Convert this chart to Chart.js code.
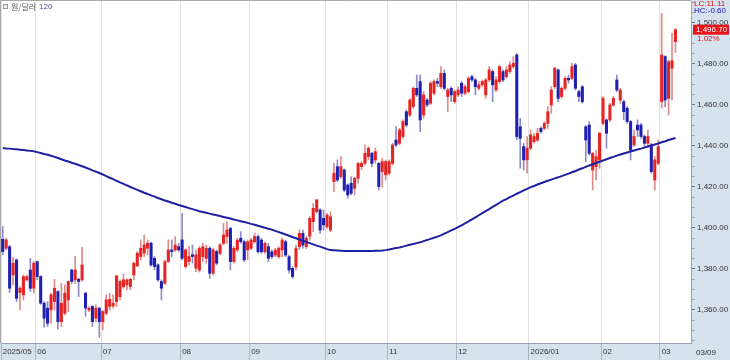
<!DOCTYPE html>
<html><head><meta charset="utf-8">
<script src="https://cdn.jsdelivr.net/npm/chart.js@4.4.1/dist/chart.umd.min.js"></script>
<style>html,body{margin:0;padding:0;background:#fff;}canvas{display:block;}</style>
</head><body>
<canvas id="c" width="730" height="360"></canvas>
<script>
// ---- data (KRW per USD, daily candles, 2025/05 - 2026/03/09) ----
const open = [
1394.5,1390.1,1390.9,1377.1,1384.4,1368.5,1367.4,1374.7,1379.5,1370.6,
1383.6,1376.3,1363.3,1360.9,1360.0,1364.1,1369.0,1354.3,1358.4,1364.9,
1379.5,1374.7,1375.0,1374.7,1368.2,1360.0,1361.7,1356.0,1360.9,1354.3,
1358.4,1361.7,1362.0,1364.1,1366.5,1371.4,1372.2,1371.4,1377.1,1381.5,
1386.1,1387.7,1390.1,1392.6,1385.2,1382.0,1373.9,1373.0,1383.6,1389.3,
1389.3,1390.9,1394.2,1381.2,1383.6,1386.9,1380.4,1379.5,1386.0,1385.2,
1390.1,1377.9,1388.5,1387.6,1392.5,1395.8,1399.8,1383.6,1389.3,1395.0,
1393.3,1389.3,1390.1,1393.3,1395.8,1394.1,1388.4,1390.9,1388.4,1386.8,
1386.0,1389.3,1393.3,1386.0,1380.3,1381.0,1390.9,1397.4,1390.9,1396.0,
1403.1,1408.0,1408.8,1404.7,1400.6,1399.0,1422.6,1429.9,1425.0,1428.3,
1421.0,1421.8,1419.3,1424.2,1429.9,1431.5,1434.8,1436.4,1433.2,1431.5,
1427.5,1425.9,1426.7,1431.5,1442.9,1441.3,1444.6,1456.7,1455.1,1459.2,
1468.1,1471.4,1455.1,1462.4,1460.8,1465.7,1471.4,1468.9,1475.4,1464.1,
1468.1,1461.6,1464.9,1470.6,1465.7,1466.5,1473.8,1472.2,1468.1,1469.8,
1464.9,1472.2,1476.3,1467.3,1471.4,1476.3,1473.8,1476.3,1478.7,1484.4,
1449.4,1439.7,1433.2,1438.9,1442.1,1442.9,1448.6,1448.6,1451.0,1460.0,
1468.9,1477.1,1464.1,1468.1,1473.0,1473.0,1479.5,1466.5,1468.9,1449.4,
1450.2,1428.3,1429.9,1433.2,1451.0,1452.7,1452.7,1460.0,1472.2,1462.4,
1461.6,1458.4,1451.9,1440.5,1450.2,1450.2,1444.6,1441.3,1440.5,1423.4,
1431.5,1461.6,1483.6,1463.2,1477.9,1490.9];
const high = [
1400.7,1395.0,1391.5,1385.7,1384.9,1371.4,1377.1,1377.0,1385.2,1383.6,
1384.0,1376.8,1364.1,1364.1,1368.2,1375.0,1369.5,1373.0,1372.2,1374.2,
1380.0,1386.1,1375.5,1390.6,1368.7,1361.7,1362.2,1362.5,1361.4,1359.7,
1367.4,1368.2,1367.4,1377.0,1374.7,1377.6,1375.2,1375.5,1383.3,1388.5,
1394.2,1396.6,1394.2,1393.0,1386.1,1382.5,1374.7,1384.4,1394.2,1394.2,
1395.8,1392.6,1407.2,1389.8,1390.9,1391.7,1389.3,1391.0,1392.5,1391.7,
1390.9,1390.1,1389.3,1392.5,1402.3,1403.1,1400.3,1390.9,1395.0,1398.2,
1394.1,1394.1,1395.0,1397.4,1396.6,1395.0,1393.3,1392.5,1389.3,1390.1,
1390.9,1395.0,1394.1,1386.8,1381.1,1391.7,1399.0,1399.0,1396.0,1405.5,
1412.0,1414.0,1409.5,1408.8,1407.2,1408.0,1431.5,1433.2,1434.8,1428.8,
1421.5,1425.0,1424.7,1432.0,1432.4,1440.5,1439.7,1436.9,1438.9,1432.0,
1434.0,1433.2,1433.2,1441.3,1449.4,1448.6,1452.7,1457.6,1463.2,1468.9,
1474.6,1474.6,1466.5,1463.2,1471.4,1472.2,1473.0,1478.7,1477.1,1468.1,
1468.9,1467.3,1468.9,1471.4,1469.8,1473.8,1474.6,1473.0,1471.4,1472.2,
1473.0,1478.7,1477.1,1473.8,1479.5,1477.1,1478.7,1481.1,1483.6,1485.0,
1453.5,1441.3,1444.6,1447.8,1446.2,1448.6,1449.4,1451.9,1459.2,1468.9,
1478.5,1477.6,1468.9,1473.8,1474.6,1480.3,1480.3,1467.3,1469.4,1449.9,
1451.9,1436.9,1438.0,1446.7,1464.1,1453.2,1460.8,1464.1,1474.6,1468.1,
1462.4,1459.2,1452.4,1447.8,1452.7,1451.0,1445.4,1447.8,1441.3,1434.8,
1442.9,1504.7,1484.1,1481.9,1495.0,1497.3];
const low = [
1386.9,1389.3,1368.5,1372.2,1364.1,1360.0,1364.9,1374.0,1369.0,1368.2,
1374.7,1362.8,1351.6,1351.9,1353.5,1360.0,1350.6,1351.9,1357.6,1359.2,
1373.0,1373.0,1366.5,1373.9,1356.8,1359.2,1351.9,1354.3,1346.7,1350.3,
1357.6,1360.0,1360.9,1361.7,1364.9,1370.6,1369.8,1369.8,1374.7,1381.2,
1384.4,1386.1,1386.9,1381.2,1379.6,1373.9,1364.9,1372.5,1383.1,1386.1,
1388.5,1388.5,1384.4,1380.4,1382.0,1382.8,1378.7,1378.5,1383.6,1382.8,
1375.4,1377.1,1382.0,1386.8,1391.7,1392.5,1379.5,1382.8,1388.4,1392.5,
1383.6,1384.4,1389.3,1392.5,1387.6,1387.6,1387.6,1383.6,1385.2,1386.0,
1385.2,1386.0,1386.0,1377.9,1375.4,1379.5,1389.5,1390.1,1390.0,1394.0,
1398.2,1407.2,1397.4,1399.0,1399.8,1398.2,1417.7,1422.6,1424.2,1417.7,
1414.5,1416.1,1416.1,1421.8,1428.3,1430.7,1433.2,1429.9,1431.5,1418.5,
1420.0,1423.4,1425.9,1430.7,1439.7,1440.5,1443.7,1449.4,1454.3,1458.4,
1464.1,1447.0,1453.5,1459.2,1460.0,1464.9,1468.9,1468.1,1467.3,1456.7,
1461.6,1460.8,1464.1,1464.1,1464.9,1465.7,1471.4,1464.9,1467.3,1468.9,
1463.2,1471.4,1461.6,1466.5,1470.6,1471.4,1473.0,1475.4,1477.9,1443.0,
1429.1,1428.3,1426.7,1438.0,1441.3,1442.1,1446.2,1447.8,1448.6,1455.9,
1468.1,1461.6,1463.2,1467.3,1470.6,1472.2,1467.3,1461.6,1460.8,1432.4,
1435.6,1418.5,1423.4,1429.1,1450.2,1438.9,1451.9,1459.2,1466.5,1460.8,
1452.7,1451.0,1433.2,1439.7,1444.6,1443.7,1439.7,1439.7,1426.7,1418.5,
1430.7,1458.4,1459.2,1455.1,1462.4,1485.6];
const close = [
1388.5,1394.2,1370.6,1382.8,1365.7,1370.6,1376.3,1376.3,1370.6,1382.8,
1376.3,1363.3,1356.0,1353.5,1367.4,1370.6,1354.3,1363.3,1368.2,1373.9,
1373.9,1379.5,1373.9,1382.0,1360.9,1360.9,1354.3,1360.9,1354.3,1359.2,
1364.9,1365.2,1363.3,1376.6,1373.9,1374.7,1374.7,1375.0,1382.8,1387.7,
1390.1,1391.7,1392.6,1382.0,1381.2,1374.7,1370.6,1383.6,1389.3,1388.5,
1391.7,1389.3,1385.2,1389.3,1386.1,1386.1,1386.9,1390.1,1390.9,1390.1,
1377.9,1389.3,1382.8,1391.7,1396.6,1399.0,1383.6,1390.1,1394.1,1393.3,
1384.4,1393.3,1394.1,1395.8,1388.4,1388.4,1392.5,1385.2,1386.0,1389.3,
1390.1,1394.1,1386.8,1379.5,1376.3,1390.0,1397.4,1391.7,1395.0,1404.7,
1409.6,1413.7,1399.0,1401.5,1406.3,1405.5,1426.7,1423.4,1429.9,1418.5,
1416.1,1416.9,1424.2,1431.5,1431.5,1436.4,1438.9,1431.5,1437.2,1420.2,
1432.4,1432.4,1432.4,1440.5,1440.5,1447.8,1451.9,1450.2,1462.4,1468.1,
1464.9,1452.7,1464.9,1460.0,1470.6,1471.4,1470.6,1475.4,1468.1,1467.3,
1464.9,1466.5,1467.3,1465.7,1468.9,1473.0,1472.2,1468.9,1469.8,1471.4,
1472.2,1477.1,1469.8,1472.2,1478.7,1472.2,1477.1,1479.5,1480.3,1444.6,
1443.7,1433.2,1438.9,1445.4,1444.6,1446.2,1447.0,1451.0,1456.7,1467.3,
1477.9,1463.2,1468.1,1473.0,1472.2,1478.7,1468.1,1464.1,1461.6,1442.9,
1436.4,1436.4,1434.8,1446.2,1463.2,1446.2,1460.0,1463.2,1467.3,1467.3,
1456.7,1451.9,1438.0,1444.6,1447.8,1444.6,1441.3,1444.6,1427.5,1433.2,
1439.7,1484.4,1462.4,1481.1,1481.6,1496.7];
// 120-day moving average as drawn on the reference
const ma120 = [
1439.0,1438.8,1438.7,1438.5,1438.4,1438.2,1438.0,1437.8,1437.6,1437.4,
1437.0,1436.6,1436.1,1435.7,1435.2,1434.7,1434.1,1433.5,1432.9,1432.4,
1431.8,1431.3,1430.7,1430.1,1429.5,1428.8,1428.1,1427.5,1426.8,1426.1,
1425.3,1424.5,1423.8,1423.0,1422.2,1421.5,1420.8,1420.0,1419.3,1418.6,
1417.9,1417.2,1416.6,1415.9,1415.3,1414.6,1414.0,1413.4,1412.9,1412.3,
1411.8,1411.2,1410.7,1410.2,1409.7,1409.2,1408.7,1408.2,1407.8,1407.4,
1407.0,1406.6,1406.2,1405.8,1405.4,1405.0,1404.6,1404.1,1403.7,1403.3,
1402.9,1402.5,1402.0,1401.6,1401.1,1400.6,1400.1,1399.6,1399.2,1398.6,
1398.0,1397.4,1396.8,1396.2,1395.6,1395.0,1394.4,1393.8,1393.2,1392.6,
1392.0,1391.4,1390.9,1390.3,1389.7,1389.2,1389.1,1389.0,1388.9,1388.8,
1388.8,1388.8,1388.8,1388.8,1388.8,1388.8,1388.8,1388.8,1388.9,1388.9,
1389.0,1389.2,1389.5,1389.9,1390.2,1390.5,1390.9,1391.4,1391.8,1392.2,
1392.6,1393.0,1393.6,1394.1,1394.7,1395.2,1395.8,1396.4,1397.2,1398.0,
1398.8,1399.6,1400.4,1401.3,1402.2,1403.2,1404.2,1405.2,1406.2,1407.2,
1408.2,1409.2,1410.3,1411.3,1412.3,1413.3,1414.1,1415.0,1415.8,1416.7,
1417.5,1418.3,1419.1,1419.9,1420.5,1421.2,1421.8,1422.4,1423.0,1423.6,
1424.2,1424.7,1425.3,1425.9,1426.5,1427.2,1427.8,1428.5,1429.1,1429.8,
1430.5,1431.1,1431.7,1432.3,1432.9,1433.5,1434.1,1434.7,1435.3,1435.8,
1436.3,1436.8,1437.3,1437.8,1438.3,1438.7,1439.2,1439.7,1440.2,1440.7,
1441.2,1441.8,1442.3,1442.9,1443.4,1443.9];
// x-axis: index of the first trading day of each month, and its label
const monthStart = [0,10,29,52,72,94,112,132,153,174,191];
const monthText  = ['2025/05','06','07','08','09','10','11','12','2026/01','02','03'];
const blankSlots = 4;               // empty days to the right of the last candle
const yMin = 1343.9, yMax = 1510.7; // visible price range
const seriesName = '원/달러', maName = '120';
const lcText = 'LC:11.11', hcText = 'HC:-0.60';
const lastPriceText = '1,496.70', changeText = '1.02%', lastDateText = '03/09';

// ---- styling ----
const FONT = '"Liberation Sans",Arial,sans-serif';
const BAND = '#d7e2ef';
const UP = '#e52424', DOWN = '#2020b0', UPW = '#e08a8a', DOWNW = '#8c8cc6';
const slots = close.length + blankSlots;
const cats = Array.from({length: slots}, (_, i) => i);
const monthSet = new Set(monthStart);
const isUp = close.map((c, i) => c >= open[i]);

const bandsPlugin = {
  id: 'bands',
  beforeDraw(chart) {
    const {ctx, chartArea: a, width, height} = chart;
    ctx.save();
    ctx.fillStyle = '#fff'; ctx.fillRect(0, 0, width, height);
    ctx.fillStyle = BAND;
    ctx.fillRect(a.right, 0, width - a.right, height);
    ctx.fillRect(0, a.bottom, width, height - a.bottom);
    ctx.restore();
  },
  afterDraw(chart) {
    const {ctx, chartArea: a, width, height, scales: {y}} = chart;
    ctx.save();
    ctx.strokeStyle = '#a9a9a9'; ctx.lineWidth = 1;
    ctx.beginPath();
    ctx.moveTo(0.5, 0); ctx.lineTo(0.5, a.bottom);
    ctx.moveTo(0, 0.5); ctx.lineTo(a.right, 0.5);
    ctx.stroke();
    // header
    ctx.fillStyle = '#f2f2f2'; ctx.fillRect(3, 4, 5, 5);
    ctx.strokeStyle = '#9a9a9a'; ctx.strokeRect(3.5, 4.5, 4, 4);
    ctx.textBaseline = 'middle'; ctx.textAlign = 'left';
    ctx.fillStyle = '#555'; ctx.font = '8px "Noto Sans CJK KR",sans-serif';
    ctx.fillText(seriesName, 11, 7);
    ctx.fillStyle = '#4b4ba6'; ctx.font = '8px ' + FONT;
    ctx.fillText(maName, 39, 7);
    // right side info
    ctx.font = '8px ' + FONT;
    ctx.fillStyle = '#e01010'; ctx.fillText(lcText, a.right + 3, 4);
    ctx.fillStyle = '#1515c0'; ctx.fillText(hcText, a.right + 3, 11);
    const py = y.getPixelForValue(close[close.length - 1]);
    ctx.fillStyle = '#e8141c'; ctx.fillRect(a.right + 2, py - 5, 36, 10);
    ctx.fillStyle = '#fff'; ctx.fillText(lastPriceText, a.right + 5, py + 0.5);
    ctx.fillStyle = '#e01010'; ctx.fillText(changeText, a.right + 6, py + 9.5);
    ctx.fillStyle = '#333'; ctx.fillText(lastDateText, a.right + 5, (a.bottom + height) / 2 + 1);
    ctx.restore();
  }
};

new Chart(document.getElementById('c'), {
  data: {
    labels: cats,
    datasets: [
      { type: 'line', data: ma120, borderColor: '#1f1fa2', borderWidth: 2,
        pointRadius: 0, fill: false, order: 0 },
      { type: 'bar', data: open.map((o, i) => [o, close[i]]), grouped: false,
        barThickness: 2.4, minBarLength: 1, borderWidth: 0,
        backgroundColor: isUp.map(u => u ? UP : DOWN), order: 1 },
      { type: 'bar', data: low.map((l, i) => [l, high[i]]), grouped: false,
        barThickness: 1, borderWidth: 0,
        backgroundColor: isUp.map(u => u ? UPW : DOWNW), order: 2 }
    ]
  },
  options: {
    responsive: false, animation: false, devicePixelRatio: 1,
    layout: { padding: { left: 1, top: 1, right: 0, bottom: 0 } },
    plugins: { legend: { display: false }, tooltip: { enabled: false } },
    scales: {
      x: {
        type: 'category', offset: true,
        grid: { offset: true, drawOnChartArea: true, drawTicks: true, tickLength: 17,
          color: c => monthSet.has(c.index) ? '#e3e3e3' : 'rgba(0,0,0,0)',
          tickColor: c => monthSet.has(c.index) ? '#aab4c2' : 'rgba(0,0,0,0)' },
        border: { display: true, color: '#98a2b0' },
        ticks: { autoSkip: false, maxRotation: 0, minRotation: 0, align: 'start', padding: -13,
          color: '#333', font: { family: FONT, size: 8 },
          callback: (v, i) => { const k = monthStart.indexOf(i); return k >= 0 ? monthText[k] : ''; } },
        afterFit: s => { s.height = 17; s.paddingLeft = 0; s.paddingRight = 0; }
      },
      y: {
        position: 'right', min: yMin, max: yMax,
        grid: { drawOnChartArea: false, tickLength: 4,
          tickColor: c => (c.tick && Math.round(c.tick.value) % 20 === 0) ? '#777' : '#a5a5a5' },
        border: { display: true, color: '#98a2b0' },
        ticks: { stepSize: 5, includeBounds: false, autoSkip: false, padding: 2, color: '#333',
          font: { family: FONT, size: 8 },
          callback: v => (Math.round(v) % 20 === 0) ? v.toLocaleString('en-US', {minimumFractionDigits: 2, maximumFractionDigits: 2}) : '' },
        afterFit: s => { s.width = 39; s.paddingTop = 0; s.paddingBottom = 0; }
      }
    }
  },
  plugins: [bandsPlugin]
});
</script>
</body></html>
